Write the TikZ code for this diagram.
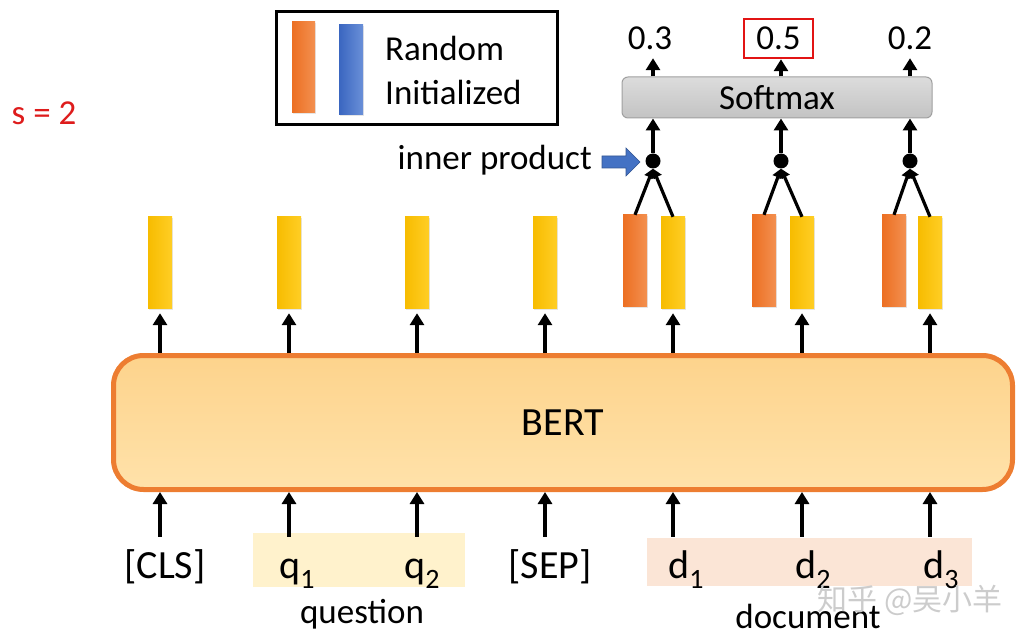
\documentclass[tikz,border=0pt]{standalone}
\usepackage{fontspec}
\setmainfont{Carlito}
\newfontfamily\cjkfont{Noto Sans CJK SC}
\usetikzlibrary{arrows.meta,shadows}
\definecolor{ybarL}{HTML}{F7BC00}
\definecolor{ybarR}{HTML}{FFCE25}
\definecolor{obarL}{HTML}{EC6F22}
\definecolor{obarR}{HTML}{F39050}
\definecolor{bbarL}{HTML}{3A66C0}
\definecolor{bbarR}{HTML}{6A90D8}
\definecolor{bertBorder}{HTML}{ED7D31}
\definecolor{bertTop}{HTML}{FDD38C}
\definecolor{bertBot}{HTML}{FFE2AA}
\definecolor{qfill}{HTML}{FFF2CC}
\definecolor{dfill}{HTML}{FBE5D6}
\definecolor{softTop}{HTML}{DCDCDC}
\definecolor{softBot}{HTML}{C3C3C3}
\definecolor{softBorder}{HTML}{A0A0A0}
\definecolor{sred}{RGB}{222,28,28}
\definecolor{boxred}{RGB}{226,20,20}
\definecolor{iparrow}{HTML}{4472C4}
\definecolor{wm}{HTML}{CCCCCC}
\newcommand{\bigtxt}{\fontsize{40}{46}\selectfont}
\newcommand{\midtxt}{\fontsize{35}{44}\selectfont}
\newcommand{\subtxt}[1]{\raisebox{-0.25em}{\fontsize{28}{30}\selectfont #1}}
\begin{document}
\begin{tikzpicture}[x=1pt,y=-1pt,
  barbase/.style={minimum width=24pt, minimum height=91pt, inner sep=0pt, draw=none,
    drop shadow={opacity=0.2, shadow xshift=1pt, shadow yshift=-1.5pt}},
  ybar/.style={barbase, left color=ybarL, right color=ybarR},
  obar/.style={barbase, left color=obarL, right color=obarR},
  bbar/.style={barbase, left color=bbarL, right color=bbarR},
  arr/.style={line width=3.4pt, -{Triangle[width=14pt,length=12pt]}},
  arrsmall/.style={line width=3.2pt, -{Triangle[width=11pt,length=9pt]}},
  tok/.style={font=\bigtxt, inner sep=0pt, text height=30pt, text depth=8pt, anchor=base},
  num/.style={font=\midtxt, inner sep=0pt, minimum width=69pt, minimum height=39pt},
  dotnode/.style={circle, fill=black, minimum size=15pt, inner sep=0pt},
  lbl/.style={font=\midtxt, inner sep=0pt}
]
\useasboundingbox (0,0) rectangle (1034,639);

% highlight boxes
\node[fill=qfill, minimum width=212pt, minimum height=54pt, inner sep=0pt] (qbox) at (359,560) {};
\node[fill=dfill, minimum width=325pt, minimum height=48pt, inner sep=0pt] (dbox) at (809.5,562) {};

% legend
\node[draw=black, line width=3pt, minimum width=281pt, minimum height=113pt, inner sep=0pt] (legend) at (416.5,68.5) {};
\node[obar, minimum width=23pt] (lo) at (303.5,67.5) {};
\node[bbar, minimum height=90pt] (lb) at (351,70) {};
\node[lbl, align=left, anchor=west] (ltext) at (385,70) {Random\\Initialized};

% s = 2
\node[lbl, text=sred] (s2) at (44,113) {s = 2};

% BERT
\node[draw=bertBorder, line width=5pt, rounded corners=30pt, top color=bertTop, bottom color=bertBot,
  minimum width=899pt, minimum height=134pt, inner sep=0pt, font=\bigtxt] (bert) at (563,422.5) {BERT};

% output bars
\node[ybar] (y1) at (160,262.5) {};
\node[ybar] (y2) at (289,262.5) {};
\node[ybar] (y3) at (417,262.5) {};
\node[ybar] (y4) at (545,262.5) {};
\node[ybar] (y5) at (673,262.5) {};
\node[ybar] (y6) at (802,262.5) {};
\node[ybar] (y7) at (930,262.5) {};
\node[obar] (o5) at (635,260.5) {};
\node[obar] (o6) at (764,260.5) {};
\node[obar] (o7) at (894,260.5) {};

\foreach \b in {y1,y2,y3,y4,y5,y6,y7}{
  \draw[arr, shorten >=5pt] (bert.north -| \b) -- (\b.south);
}

% inner product dots
\node[dotnode] (p1) at (653,161) {};
\node[dotnode] (p2) at (781,161) {};
\node[dotnode] (p3) at (910,161) {};
\draw[arrsmall] (o5.north) -- (p1.south);
\draw[arrsmall] (y5.north) -- (p1.south);
\draw[arrsmall] (o6.north) -- (p2.south);
\draw[arrsmall] (y6.north) -- (p2.south);
\draw[arrsmall] (o7.north) -- (p3.south);
\draw[arrsmall] (y7.north) -- (p3.south);

% inner product label and block arrow
\node[lbl, anchor=east] (iptext) at (592,160) {inner product};
\fill[iparrow, draw=iparrow!75!black, line width=0.6pt]
  (602,156) -- (626,156) -- (626,148) -- (640,162) -- (626,176) -- (626,168) -- (602,168) -- cycle;

% softmax
\node[draw=softBorder, line width=1pt, rounded corners=6pt, top color=softTop, bottom color=softBot,
  minimum width=310pt, minimum height=41pt, inner sep=0pt, font=\midtxt] (soft) at (777,97.5) {Softmax};

\draw[arr] (p1) -- (p1 |- soft.south);
\draw[arr] (p2) -- (p2 |- soft.south);
\draw[arr] (p3) -- (p3 |- soft.south);

% numbers
\node[num] (n1) at (650,38.5) {0.3};
\node[num, draw=boxred, line width=2.5pt] (n2) at (778.5,38.5) {0.5};
\node[num] (n3) at (910,38.5) {0.2};
\draw[arr] (p1 |- soft.north) -- (p1 |- n1.south);
\draw[arr] (p2 |- soft.north) -- (p2 |- n2.south);
\draw[arr] (p3 |- soft.north) -- (p3 |- n3.south);

% tokens
\node[tok] (cls) at (165,578) {[CLS]};
\node[tok] (q1) at (297,578) {q\subtxt{1}};
\node[tok] (q2) at (422,578) {q\subtxt{2}};
\node[tok] (sep) at (550,578) {[SEP]};
\node[tok] (d1) at (686,578) {d\subtxt{1}};
\node[tok] (d2) at (813,578) {d\subtxt{2}};
\node[tok] (d3) at (941,578) {d\subtxt{3}};

\draw[arr, shorten <=11pt] (y1 |- cls.north) -- (y1 |- bert.south);
\draw[arr, shorten <=11pt] (y2 |- q1.north) -- (y2 |- bert.south);
\draw[arr, shorten <=11pt] (y3 |- q2.north) -- (y3 |- bert.south);
\draw[arr, shorten <=11pt] (y4 |- sep.north) -- (y4 |- bert.south);
\draw[arr, shorten <=11pt] (y5 |- d1.north) -- (y5 |- bert.south);
\draw[arr, shorten <=11pt] (y6 |- d2.north) -- (y6 |- bert.south);
\draw[arr, shorten <=11pt] (y7 |- d3.north) -- (y7 |- bert.south);

\node[lbl] (qlabel) at (362,614) {question};
\node[lbl] (dlabel) at (808,616) {document};

% watermark
\node[inner sep=0pt, text=wm, font=\cjkfont\fontsize{30}{34}\selectfont] (wmark) at (910,600) {知乎 @吴小羊};
\end{tikzpicture}
\end{document}
